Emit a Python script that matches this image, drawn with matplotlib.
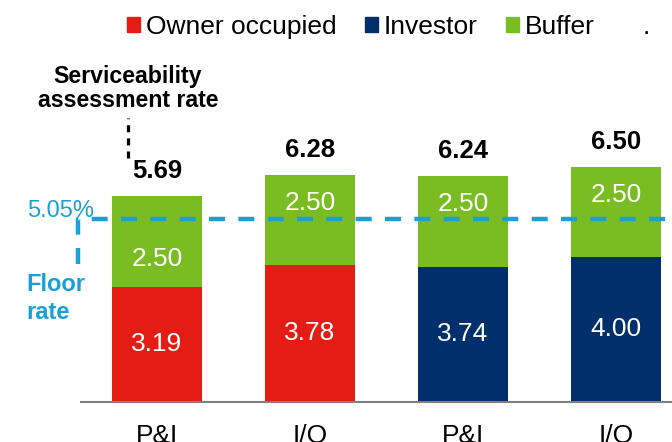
import matplotlib
matplotlib.use("Agg")
import matplotlib.pyplot as plt
from matplotlib.patches import Patch

plt.rcParams['font.family'] = ['Liberation Sans', 'DejaVu Sans']

# Rates (%)
categories = ['P&I', 'I/O', 'P&I', 'I/O']
borrower = ['Owner occupied', 'Owner occupied', 'Investor', 'Investor']
base_rate = [3.19, 3.78, 3.74, 4.00]
buffer = [2.50, 2.50, 2.50, 2.50]
floor_rate = 5.05
# where the buffer label sits inside the green segment (fraction from bottom)
buffer_label_frac = [0.30, 0.69, 0.69, 0.69]

RED = '#E31D14'
NAVY = '#002F6C'
GREEN = '#7ABD23'
BLUE = '#1AA0D8'
colors = {'Owner occupied': RED, 'Investor': NAVY}

W, H = 672, 442
fig = plt.figure(figsize=(W / 100, H / 100), dpi=100)
ax = fig.add_axes([80.7 / W, 40.3 / H, 1 - 80.7 / W, 401.7 / H])

x = range(len(categories))
bw = 90 / 153
ax.bar(x, base_rate, width=bw, color=[colors[b] for b in borrower], zorder=2)
ax.bar(x, buffer, width=bw, bottom=base_rate, color=GREEN, zorder=2)

for i in x:
    total = base_rate[i] + buffer[i]
    ax.text(i, base_rate[i] / 2, f'{base_rate[i]:.2f}', ha='center', va='center',
            color='white', fontsize=19, zorder=4)
    ax.text(i, base_rate[i] + buffer[i] * buffer_label_frac[i], f'{buffer[i]:.2f}',
            ha='center', va='center', color='white', fontsize=19, zorder=4)
    ax.annotate(f'{total:.2f}', (i, total), xytext=(0, 18.0), textcoords='offset points',
                ha='center', va='center', fontsize=18.5, fontweight='bold')

# floor rate: dashed line with a short leg down to the label
ax.plot([-0.518, -0.518, 3.5], [3.81, floor_rate, floor_rate], color=BLUE, lw=3.2,
        ls=(0, (3.6, 3.0)), clip_on=False, zorder=3)
ax.text(-0.852, floor_rate + 0.24, f'{floor_rate:.2f}%', color=BLUE, fontsize=17,
        ha='left', va='center')
ax.text(-0.852, 2.86, 'Floor\nrate', color=BLUE, fontsize=17, fontweight='bold',
        ha='left', va='center', linespacing=1.25)

# serviceability callout
ax.plot([-0.1876, -0.1876], [6.75, 7.86], color='black', lw=2.3,
        ls=(0, (2.2, 1.9)), clip_on=False)
ax.text(-0.19, 8.68, 'Serviceability\nassessment rate', fontsize=16.7, fontweight='bold',
        ha='center', va='center', linespacing=1.05)

ax.set_xlim(-0.4987, 3.366)
ax.set_ylim(0, 401.7 / 36.1)
ax.set_xticks(list(x))
ax.set_xticklabels(categories, fontsize=19)
ax.tick_params(axis='x', length=0, pad=16)
ax.set_yticks([])
for s in ['left', 'right', 'top']:
    ax.spines[s].set_visible(False)
ax.spines['bottom'].set_color('#808080')
ax.spines['bottom'].set_linewidth(1.5)

handles = [Patch(color=RED, label='Owner occupied'),
           Patch(color=NAVY, label='Investor'),
           Patch(color=GREEN, label='Buffer'),
           Patch(color='none', label='.')]
fig.legend(handles=handles, loc='upper left', bbox_to_anchor=(127 / W, 1 - 15 / H),
           ncol=4, frameon=False, fontsize=19, borderpad=0, borderaxespad=0,
           handlelength=0.51, handleheight=0.51, handletextpad=0.22, columnspacing=1.06)

fig.savefig('out.png', dpi=100)
